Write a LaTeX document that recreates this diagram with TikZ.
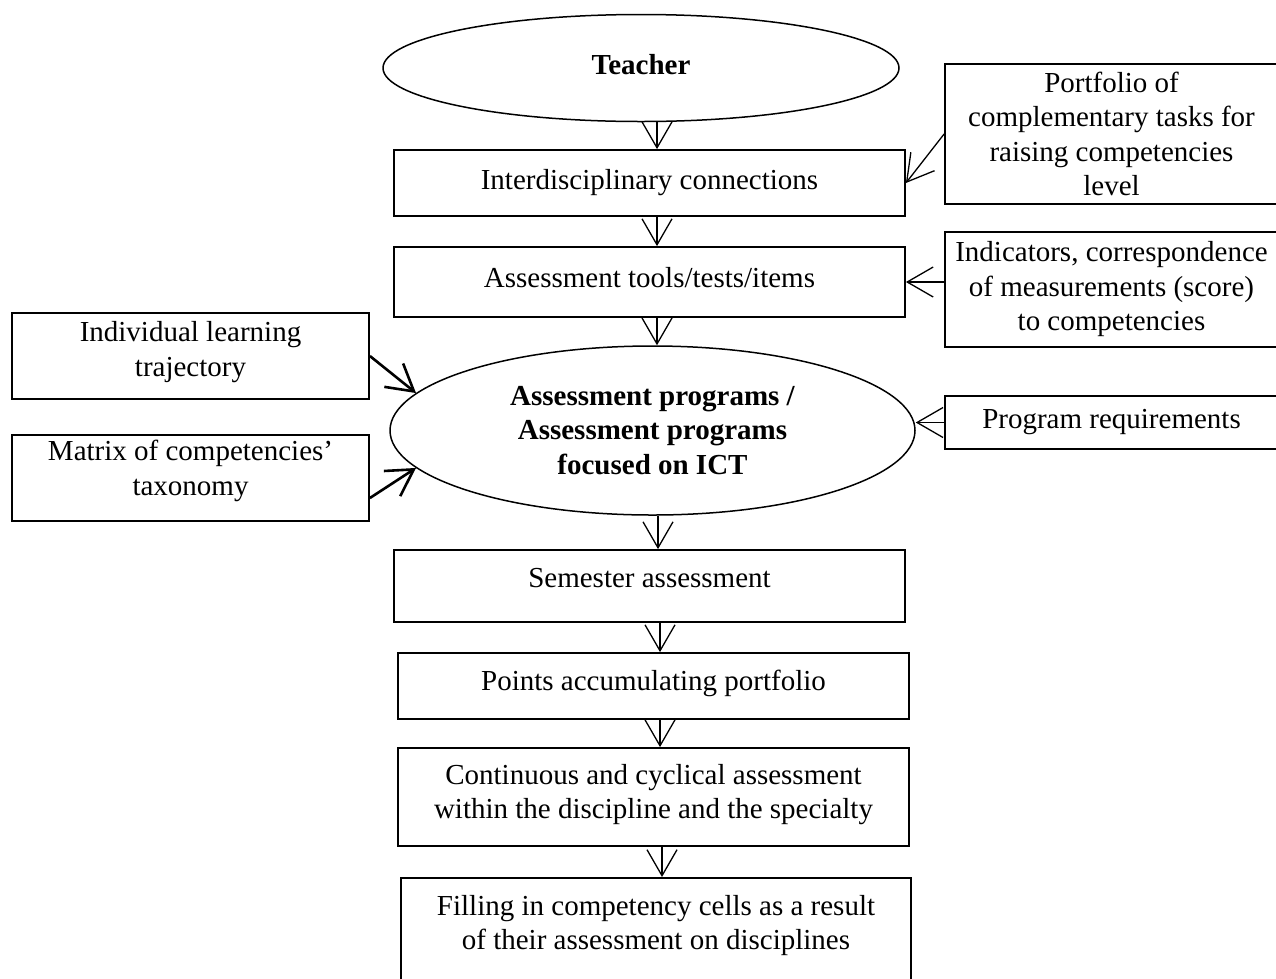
\documentclass[tikz,border=0pt]{standalone}
\usepackage{fontspec}
\setmainfont{Liberation Serif}
\usetikzlibrary{arrows.meta,shapes.geometric}
\newcommand{\lowstrut}[1]{\rule[-#1]{0pt}{#1}}

\begin{document}
\begin{tikzpicture}[%
  x=1pt, y=-1pt,
  every node/.style={font=\fontsize{29}{34.5}\selectfont, align=center},
  box/.style={draw, line width=1.8pt, inner sep=0pt},
  oval/.style={draw, ellipse, line width=1.5pt, inner sep=0pt,
    font=\fontsize{29}{34.5}\selectfont\bfseries},
  arr/.style={-{Straight Barb[length=26pt,width=30pt]}, line width=1.3pt},
  thickarr/.style={arr, line width=2.6pt}]
\useasboundingbox (0,0) rectangle (1276,978);

\node[oval, minimum width=516, minimum height=107] (teacher) at (641,68) {Teacher\lowstrut{8pt}};
\node[box, minimum width=511, minimum height=66] (inter) at (649.5,183)
	{Interdisciplinary connections};
\node[box, minimum width=511, minimum height=70] (tools) at (649.5,282)
	{Assessment tools/tests/items\lowstrut{10pt}};
\node[oval, minimum width=525, minimum height=169] (prog) at (652.5,430.5)
	{Assessment programs /\\Assessment programs\\focused on ICT};
\node[box, minimum width=511, minimum height=72] (sem) at (649.5,586)
	{Semester assessment\lowstrut{16pt}};
\node[box, minimum width=511, minimum height=66] (points) at (653.5,686)
	{Points accumulating portfolio\lowstrut{12pt}};
\node[box, minimum width=511, minimum height=98] (cycle) at (653.5,797)
	{Continuous and cyclical assessment\\within the discipline and the specialty\lowstrut{11pt}};
\node[box, minimum width=510, anchor=north, inner ysep=17pt, text depth=120pt] (fill) at (656,877)
	{Filling in competency cells as a result\\of their assessment on disciplines};

\node[box, minimum width=333, minimum height=140] (portf) at (1111.5,134)
	{Portfolio of\\complementary tasks for\\raising competencies\\level};
\node[box, minimum width=333, minimum height=115] (indic) at (1111.5,289.5)
	{Indicators, correspondence\\of measurements (score)\\to competencies};
\node[box, minimum width=333, minimum height=53] (req) at (1111.5,422.5)
	{Program requirements};

\node[box, minimum width=357, minimum height=86] (traj) at (190.5,356)
	{Individual learning\\trajectory\lowstrut{14pt}};
\node[box, minimum width=357, minimum height=86] (matrix) at (190.5,478)
	{Matrix of competencies'\\taxonomy\lowstrut{20pt}};

\draw[arr] ([xshift=16]teacher.south) -- ([xshift=7.5]inter.north);
\draw[arr] ([xshift=7.5]inter.south) -- ([xshift=7.5]tools.north);
\draw[arr] ([xshift=7.5]tools.south) -- ([xshift=4.5]prog.north);
\draw[arr] ([xshift=5.5]prog.south) -- ([xshift=8.5]sem.north);
\draw[arr] ([xshift=10.5]sem.south) -- ([xshift=6.5]points.north);
\draw[arr] ([xshift=6.5]points.south) -- ([xshift=6.5]cycle.north);
\draw[arr] ([xshift=8.5]cycle.south) -- ([xshift=6]fill.north);

\draw[arr] (portf.west) -- (inter.east);
\draw[arr] (indic.west |- tools.east) -- (tools.east);
\draw[arr] (req.west) -- (req.west -| prog.east);
\draw[thickarr] (traj.east) -- (prog.171);
\draw[thickarr] ([yshift=-20]matrix.east) -- (prog.189);
\end{tikzpicture}
\end{document}
